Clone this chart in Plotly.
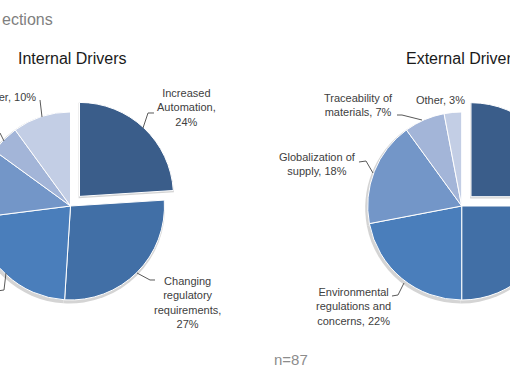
import plotly.graph_objects as go

# ---------------- data ----------------
internal_labels = ["Increased Automation", "Changing regulatory requirements",
                   "Internal driver 3", "Internal driver 4", "Internal driver 5", "Other"]
internal_values = [24, 27, 22, 12, 5, 10]

external_labels = ["External driver 1", "External driver 2",
                   "Environmental regulations and concerns", "Globalization of supply",
                   "Traceability of materials", "Other"]
external_values = [25, 25, 22, 18, 7, 3]

slice_colors = ["#3A5D8A", "#416FA6", "#4A7EBB", "#7396C8", "#A3B5D8", "#C3CEE5"]
pulls = [0.14, 0, 0, 0, 0, 0]

chart_titles = ["Internal Drivers", "External Drivers"]
page_title = "ections"
sample_note = "n=87"

# ---------------- geometry helpers (layout only) ----------------
W, H = 612, 382
SHIFT = 40          # page is shifted left so the pies are cropped like the reference
R = 94
PULL = max(pulls)


def px(x):
    return (x + SHIFT) / W


def py(y):
    return 1 - y / H


def domain(cx, cy, r, pull):
    half = r * (1 + pull)
    return dict(x=[px(cx - half), px(cx + half)], y=[py(cy + half), py(cy - half)])


centers = [(70.5, 206), (461.7, 206)]
fig = go.Figure()

for (cx, cy), labels, values in zip(centers, [internal_labels, external_labels],
                                    [internal_values, external_values]):
    # soft shadow
    fig.add_trace(go.Pie(labels=labels, values=values, sort=False, direction="clockwise",
                         rotation=0, pull=pulls, textinfo="none", hoverinfo="skip",
                         marker=dict(colors=["#D4D4D4"] * len(values), line=dict(width=0)),
                         domain=domain(cx - 1, cy + 2, R + 1.5, PULL), showlegend=False))
    fig.add_trace(go.Pie(labels=labels, values=values, sort=False, direction="clockwise",
                         rotation=0, pull=pulls, textinfo="none",
                         marker=dict(colors=slice_colors, line=dict(color="white", width=1)),
                         domain=domain(cx, cy, R, PULL), showlegend=False))

lab_font = dict(family="Liberation Sans, Arial", size=11, color="#404040")
anns = []


def lab(text, x, y, xanchor="center"):
    anns.append(dict(text=text, x=px(x), y=py(y), xref="paper", yref="paper",
                     xanchor=xanchor, yanchor="middle", showarrow=False, font=lab_font,
                     align="center"))


lab(f"Increased<br>Automation,<br>{internal_values[0]}%", 186, 107)
lab(f"Changing<br>regulatory<br>requirements,<br>{internal_values[1]}%", 187, 302.5)
lab(f"{internal_labels[5]}, {internal_values[5]}%", 38, 97, xanchor="right")
lab(f"Traceability of<br>materials, {external_values[4]}%", 358, 105)
lab(f"{external_labels[5]}, {external_values[5]}%", 440, 100)
lab(f"Globalization of<br>supply, {external_values[3]}%", 317, 164.5)
lab(f"Environmental<br>regulations and<br>concerns, {external_values[2]}%", 353, 306.5)

for t, (cx, _) in zip(chart_titles, centers):
    anns.append(dict(text=t, x=px(cx + 1), y=py(58), xref="paper", yref="paper",
                     xanchor="center", yanchor="middle", showarrow=False,
                     font=dict(family="Liberation Sans, Arial", size=16, color="#1a1a1a")))

anns.append(dict(text=page_title, x=px(0), y=py(20), xref="paper", yref="paper",
                 xanchor="left", yanchor="middle", showarrow=False,
                 font=dict(family="Liberation Sans, Arial", size=16, color="#7f7f7f")))
anns.append(dict(text=sample_note, x=px(291), y=py(359), xref="paper", yref="paper",
                 xanchor="center", yanchor="middle", showarrow=False,
                 font=dict(family="Liberation Sans, Arial", size=15, color="#8c8c8c")))

leaders = [
    [(154, 113), (148, 113), (143, 128)],
    [(155, 280), (150, 280), (137, 273)],
    [(40, 100), (42, 117)],
    [(-10, 125), (0, 133), (4, 141)],
    [(6, 273), (4, 290), (-10, 292)],
    [(397, 115), (402, 115), (422, 120)],
    [(359, 162), (366, 161), (373, 173)],
    [(392, 296), (398, 295), (404, 283)],
]
shapes = []
for pts in leaders:
    path = "M " + " L ".join(f"{px(x):.5f},{py(y):.5f}" for x, y in pts)
    shapes.append(dict(type="path", path=path, xref="paper", yref="paper",
                       line=dict(color="#595959", width=1)))

fig.update_layout(width=W, height=H, margin=dict(l=0, r=0, t=0, b=0),
                  paper_bgcolor="white", plot_bgcolor="white",
                  annotations=anns, shapes=shapes)

post = ("var d=document.getElementById('{plot_id}');d.style.marginLeft='-%dpx';"
        "document.body.style.margin='0';document.body.style.overflow='hidden';"
        "document.documentElement.style.overflow='hidden';" % SHIFT)
fig.write_html("out.html", post_script=post)
